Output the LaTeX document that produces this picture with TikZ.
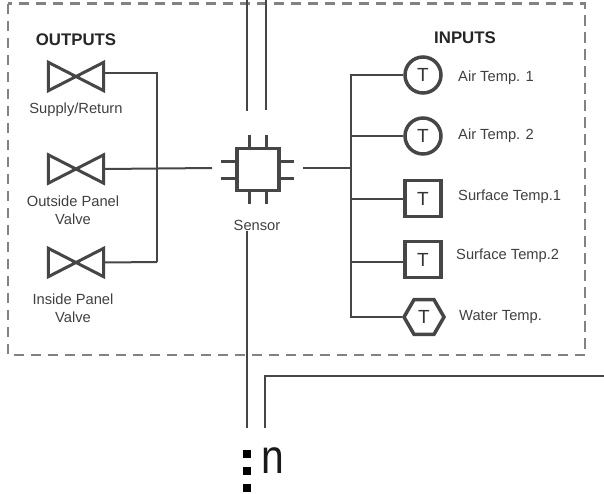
\documentclass[tikz,border=0pt]{standalone}
\usepackage{xcolor}
\usepackage{fontspec}
\setmainfont{Liberation Sans}
\usetikzlibrary{shapes,positioning}
\definecolor{wiregray}{RGB}{70,70,70}
\definecolor{framegray}{RGB}{130,130,130}

\begin{document}
\begin{tikzpicture}[
    x=1pt, y=-1pt,
    node distance=15pt,
    frame/.style={draw=framegray, line width=2.4pt, dash pattern=on 10.5pt off 6.5pt},
    wire/.style={draw=wiregray, line width=2pt},
    pin/.style={draw=wiregray, line width=3pt},
    heading/.style={font=\fontsize{16.8}{18}\selectfont\bfseries, text=black!85},
    tag/.style={font=\fontsize{14.7}{18}\selectfont, text=black!75, align=center, inner sep=0pt},
    sym/.style={draw=wiregray, line width=3.5pt, inner sep=0pt, font=\fontsize{19}{20}\selectfont, text=black!80},
    roundsym/.style={sym, circle, minimum size=36pt},
    boxsym/.style={sym, rectangle, minimum size=36pt},
    hexsym/.style={sym, regular polygon, regular polygon sides=6, minimum size=40pt},
    valve/.style={rectangle, inner sep=0pt, minimum width=55pt, minimum height=28pt},
    dot/.style={rectangle, fill=black, inner sep=0pt, minimum size=8pt}
]
    \useasboundingbox (0,0) rectangle (604,493);

    \draw[frame] (8,3.5) rectangle (585,355);

    \node[rectangle, draw=wiregray, line width=3.5pt, minimum size=42pt, inner sep=0pt] (chip) at (258,169.5) {};
    \node[tag] (sensor) at (257,225) {Sensor};

    \foreach \pinx in {-9,8} {
        \draw[pin] ([xshift=\pinx pt]chip.north) -- ++(0,-12);
        \draw[pin] ([xshift=\pinx pt]chip.south) -- ++(0,12);
    }
    \foreach \piny in {8,-9} {
        \draw[pin] ([yshift=\piny pt]chip.west) -- ++(-14,0);
        \draw[pin] ([yshift=\piny pt]chip.east) -- ++(13,0);
    }

    \node[heading] (outputs) at (76,39.5) {OUTPUTS};
    \node[valve] (v1) at (76,76.5) {};
    \node[valve] (v2) at (76,169) {};
    \node[valve] (v3) at (76,262.5) {};
    \foreach \vname in {v1,v2,v3} {
        \draw[wiregray, line width=3pt, line join=miter]
            (\vname.north west) -- (\vname.south east) -- (\vname.north east) -- (\vname.south west) -- cycle;
    }
    \node[tag] (vl1) at (76,110) {Supply/Return};
    \node[tag] (vl2) at (73,210) {Outside Panel\\[0pt]Valve};
    \node[tag] (vl3) at (73,308) {Inside Panel\\[0pt]Valve};

    \node[heading] (inputs) at (465,37.5) {INPUTS};
    \node[roundsym] (t1) at (423,75) {T};
    \node[roundsym] (t2) at (423,136) {T};
    \node[boxsym] (t3) at (423,198.5) {T};
    \node[boxsym] (t4) at (423,259.5) {T};
    \node[hexsym] (t5) at (424,317) {T};

    \node[tag, anchor=west] (tl1) at (458,78) {Air Temp. 1};
    \node[tag, anchor=west] (tl2) at (458,136) {Air Temp. 2};
    \node[tag, anchor=west] (tl3) at (458,197) {Surface Temp.1};
    \node[tag, anchor=west] (tl4) at (456,256) {Surface Temp.2};
    \node[tag, anchor=west] (tl5) at (459,317) {Water Temp.};

    \coordinate (topa) at (247,0);
    \coordinate (topb) at (265.5,0);
    \coordinate (enda) at (247,111);
    \coordinate (endb) at (265.5,110);
    \coordinate (chipleft) at (212,168);
    \coordinate (chipright) at (303,168);
    \coordinate (outbus) at (157,262);
    \coordinate (inbus) at (351,168);
    \coordinate (downa) at (247,231);
    \coordinate (lowa) at (247,428);
    \coordinate (lowb) at (265,428);
    \coordinate (far) at (604,376);

    \draw[wire] (topa) -- (enda);
    \draw[wire] (topb) -- (endb);
    \draw[wire] (downa) -- (lowa);
    \draw[wire] (lowb) |- (far);

    \draw[wire] ([yshift=3.5pt]v1.east) -| (outbus);
    \draw[wire] (v3.east) -- (outbus);
    \draw[wire] (v2.east) -- (chipleft);

    \draw[wire] (chipright) -- (inbus);
    \draw[wire] (t1.west) -| (inbus);
    \draw[wire] (t2.west) -| (inbus);
    \draw[wire] (t3.west) -| (inbus);
    \draw[wire] ([yshift=-2.5pt]t4.west) -| (inbus);
    \draw[wire] (t5.west) -| (inbus);

    \node[dot] (dota) at (247,454) {};
    \node[dot, below=9pt of dota] (dotb) {};
    \node[dot, below=8pt of dotb] (dotc) {};
    \node[inner sep=0pt, anchor=base, xscale=0.85, font=\fontsize{48}{50}\selectfont, text=black!90] (count) at (273,473) {n};
\end{tikzpicture}
\end{document}
